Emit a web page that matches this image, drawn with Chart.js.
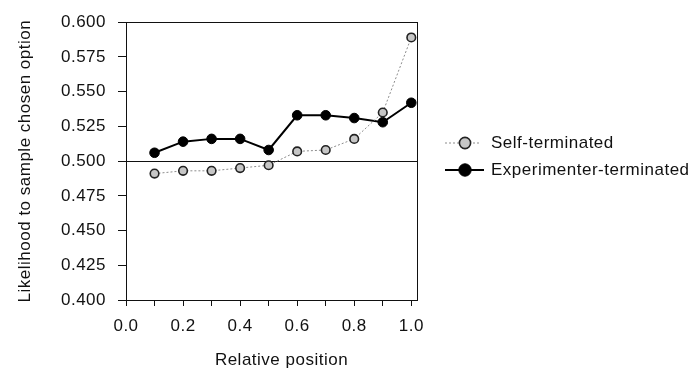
<!DOCTYPE html>
<html>
<head>
<meta charset="utf-8">
<script src="https://cdn.jsdelivr.net/npm/chart.js@4/dist/chart.umd.min.js"></script>
<style>
  html, body { margin: 0; padding: 0; background: #fff; }
  #wrap { width: 699px; height: 372px; position: relative; }
</style>
</head>
<body>
<div id="wrap"><canvas id="c" width="699" height="372"></canvas></div>
<script>
// Relative position of the sample within the sequence
const positions = [0.1, 0.2, 0.3, 0.4, 0.5, 0.6, 0.7, 0.8, 0.9, 1.0];

// Likelihood to sample the eventually chosen option
const selfTerminated = [0.491, 0.493, 0.493, 0.495, 0.497, 0.507, 0.508, 0.516, 0.535, 0.589];
const experimenterTerminated = [0.506, 0.514, 0.516, 0.516, 0.508, 0.533, 0.533, 0.531, 0.528, 0.542];

// Axis ticks
const xTickValues = [0.0, 0.1, 0.2, 0.3, 0.4, 0.5, 0.6, 0.7, 0.8, 0.9, 1.0];
const xTickLabels = ['0.0', '', '0.2', '', '0.4', '', '0.6', '', '0.8', '', '1.0'];
const yTickValues = [0.400, 0.425, 0.450, 0.475, 0.500, 0.525, 0.550, 0.575, 0.600];
const yTickLabels = ['0.400', '0.425', '0.450', '0.475', '0.500', '0.525', '0.550', '0.575', '0.600'];

// Chance level
const chanceLevel = 0.5;

const xTitle = 'Relative position';

const FONT = "'Liberation Sans', Arial, sans-serif";
const INK = '#111';
const TRACKING = '0.5px';

const selfStyle = {
  borderColor: '#8c8c8c', borderWidth: 1, borderDash: [2, 2],
  pointBackgroundColor: '#c6c6c6', pointBorderColor: '#222', pointBorderWidth: 1.6, pointRadius: 4.3
};
const expStyle = {
  borderColor: '#000', borderWidth: 2, borderDash: [],
  pointBackgroundColor: '#000', pointBorderColor: '#000', pointBorderWidth: 1, pointRadius: 4.8
};

const framePlugin = {
  id: 'frame',
  beforeInit(chart) { chart.ctx.letterSpacing = TRACKING; },
  beforeLayout(chart) { chart.ctx.letterSpacing = TRACKING; },
  beforeDraw(chart) { chart.ctx.letterSpacing = TRACKING; },
  beforeDatasetsDraw(chart) {
    const { ctx, chartArea: a, scales: { y } } = chart;
    ctx.save();
    ctx.strokeStyle = INK;
    ctx.lineWidth = 1;
    ctx.strokeRect(Math.round(a.left) + 0.5, Math.round(a.top) + 0.5,
                   Math.round(a.right - a.left), Math.round(a.bottom - a.top));
    const yc = Math.round(y.getPixelForValue(chanceLevel)) + 0.5;
    ctx.beginPath();
    ctx.moveTo(a.left, yc);
    ctx.lineTo(a.right, yc);
    ctx.stroke();
    ctx.restore();
  },
  afterDraw(chart) {
    const { ctx, chartArea: a } = chart;
    ctx.save();
    ctx.letterSpacing = TRACKING;
    ctx.font = `17px ${FONT}`;
    ctx.fillStyle = INK;

    // x-axis title, set a little right of the plot centre
    ctx.textAlign = 'center';
    ctx.textBaseline = 'middle';
    ctx.fillText(xTitle, (a.left + a.right) / 2 + 10, 360);

    // Legend: line sample with marker, then label
    const rows = [
      { ds: chart.data.datasets[0], y: 143, x0: 445, x1: 479, r: 5.6 },
      { ds: chart.data.datasets[1], y: 170, x0: 445, x1: 484, r: 6.2 }
    ];
    rows.forEach(row => {
      const d = row.ds;
      ctx.strokeStyle = d.borderColor;
      ctx.lineWidth = d.borderWidth;
      ctx.setLineDash(d.borderDash || []);
      ctx.beginPath();
      ctx.moveTo(row.x0, row.y);
      ctx.lineTo(row.x1, row.y);
      ctx.stroke();
      ctx.setLineDash([]);
      ctx.beginPath();
      ctx.arc(465, row.y, row.r, 0, Math.PI * 2);
      ctx.fillStyle = d.pointBackgroundColor;
      ctx.fill();
      ctx.lineWidth = d.pointBorderWidth;
      ctx.strokeStyle = d.pointBorderColor;
      ctx.stroke();
      ctx.fillStyle = INK;
      ctx.textAlign = 'left';
      ctx.textBaseline = 'middle';
      ctx.fillText(d.label, 491, row.y);
    });
    ctx.restore();
  }
};

new Chart(document.getElementById('c'), {
  type: 'line',
  data: {
    datasets: [
      Object.assign({
        label: 'Self-terminated',
        data: positions.map((p, i) => ({ x: p, y: selfTerminated[i] }))
      }, selfStyle),
      Object.assign({
        label: 'Experimenter-terminated',
        data: positions.map((p, i) => ({ x: p, y: experimenterTerminated[i] }))
      }, expStyle)
    ]
  },
  options: {
    responsive: false,
    animation: false,
    devicePixelRatio: 1,
    layout: { padding: { left: 0, right: 282, top: 15, bottom: 0 } },
    plugins: { legend: { display: false }, tooltip: { enabled: false } },
    elements: { line: { tension: 0, fill: false } },
    scales: {
      x: {
        type: 'linear',
        min: 0,
        max: 1.02,
        afterBuildTicks: s => { s.ticks = xTickValues.map(v => ({ value: v })); },
        afterFit: s => { s.height = 72; },
        ticks: {
          color: INK,
          font: { family: FONT, size: 17 },
          padding: 10,
          maxRotation: 0,
          autoSkip: false,
          callback: (v, i) => xTickLabels[i]
        },
        grid: { drawOnChartArea: false, drawTicks: true, tickLength: 6, color: INK },
        border: { display: true, color: INK, width: 1 },
        title: { display: false }
      },
      y: {
        type: 'linear',
        min: 0.4,
        max: 0.6,
        afterBuildTicks: s => { s.ticks = yTickValues.map(v => ({ value: v })); },
        afterFit: s => { s.width = 126; },
        ticks: {
          color: INK,
          font: { family: FONT, size: 17 },
          padding: 12,
          autoSkip: false,
          callback: (v, i) => yTickLabels[i]
        },
        grid: { drawOnChartArea: false, drawTicks: true, tickLength: 8, color: INK },
        border: { display: true, color: INK, width: 1 },
        title: {
          display: true, text: 'Likelihood to sample chosen option', color: INK,
          font: { family: FONT, size: 17 }, padding: { top: 15, bottom: 0 }
        }
      }
    }
  },
  plugins: [framePlugin]
});
</script>
</body>
</html>
